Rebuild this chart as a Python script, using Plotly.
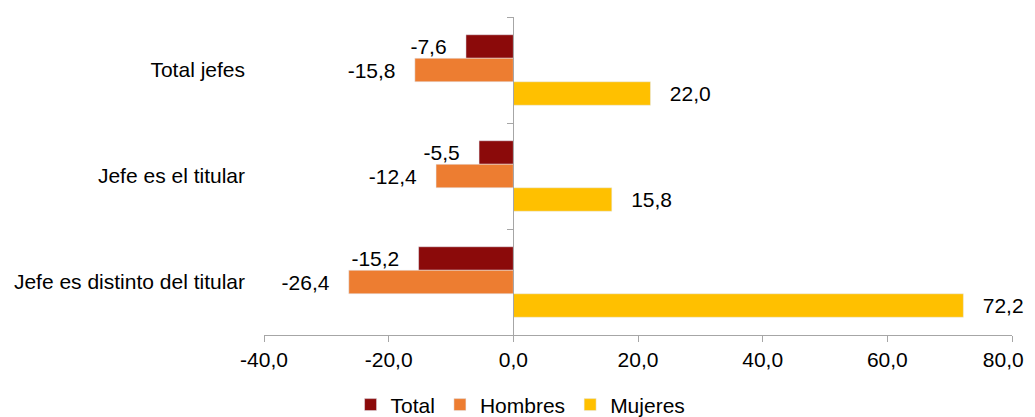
import plotly.graph_objects as go

categories = ["Total jefes", "Jefe es el titular", "Jefe es distinto del titular"]
total = [-7.6, -5.5, -15.2]
hombres = [-15.8, -12.4, -26.4]
mujeres = [22.0, 15.8, 72.2]
x_ticks = [-40, -20, 0, 20, 40, 60, 80]
x_tick_labels = ["-40,0", "-20,0", "0,0", "20,0", "40,0", "60,0", "80,0"]

FONT = "Liberation Sans, Arial, sans-serif"
FS = 21
GAP = "\u2002\u00a0"

# keep the last tick label inside the visible page (pad it on the right)
tick_text = x_tick_labels[:-1] + [x_tick_labels[-1] + "\u00a0\u00a0\u00a0"]

fig = go.Figure()
fig.add_trace(go.Bar(y=categories, x=total, orientation="h", name="Total",
                     marker=dict(color="#8B0A0A"),
                     texttemplate="%{x:.1f}" + GAP, textposition="outside",
                     constraintext="none", cliponaxis=False,
                     textfont=dict(size=FS, color="black", family=FONT)))
fig.add_trace(go.Bar(y=categories, x=hombres, orientation="h", name="Hombres",
                     marker=dict(color="#ED7D31"),
                     texttemplate="%{x:.1f}" + GAP, textposition="outside",
                     constraintext="none", cliponaxis=False,
                     textfont=dict(size=FS, color="black", family=FONT)))
fig.add_trace(go.Bar(y=categories, x=mujeres, orientation="h", name="Mujeres",
                     marker=dict(color="#FFC000"),
                     texttemplate=GAP + "%{x:.1f}", textposition="outside",
                     constraintext="none", cliponaxis=False,
                     textfont=dict(size=FS, color="black", family=FONT)))
# invisible trace to carry the vertical axis drawn at x = 0
fig.add_trace(go.Scatter(y=categories, x=[0] * len(categories), yaxis="y2",
                         mode="markers", marker=dict(opacity=0),
                         showlegend=False, hoverinfo="skip"))

fig.update_layout(
    width=1027, height=409,
    margin=dict(l=256, r=23, t=9, b=82, autoexpand=False),
    paper_bgcolor="white", plot_bgcolor="white",
    separators=",.",
    font=dict(family=FONT, size=FS, color="black"),
    barmode="group", bargap=0.335, bargroupgap=0,
    showlegend=True,
    legend=dict(orientation="h", x=0.343, xanchor="center", y=-0.220, yanchor="middle",
                font=dict(size=FS), itemwidth=30, tracegroupgap=0,
                traceorder="normal"),
    xaxis=dict(range=[-40, 80], tickvals=x_ticks, ticktext=tick_text,
               ticklabeloverflow="allow",
               showgrid=False, zeroline=False, showline=True,
               linecolor="#A6A6A6", linewidth=1.3, ticks="outside",
               ticklen=6, tickcolor="#A6A6A6", tickfont=dict(size=FS)),
    yaxis=dict(categoryorder="array", categoryarray=categories,
               range=[2.5, -0.5], showgrid=False, zeroline=False,
               showline=False, ticks="", ticklabelstandoff=18,
               tickfont=dict(size=FS)),
    yaxis2=dict(overlaying="y", anchor="free", position=1 / 3,
                categoryorder="array", categoryarray=categories,
                range=[2.5, -0.5], showgrid=False, zeroline=False,
                showline=True, linecolor="#A6A6A6", linewidth=1.3,
                ticks="outside", ticklen=6, tickcolor="#A6A6A6",
                tickson="boundaries", showticklabels=False),
)

fig.write_html("out.html")
